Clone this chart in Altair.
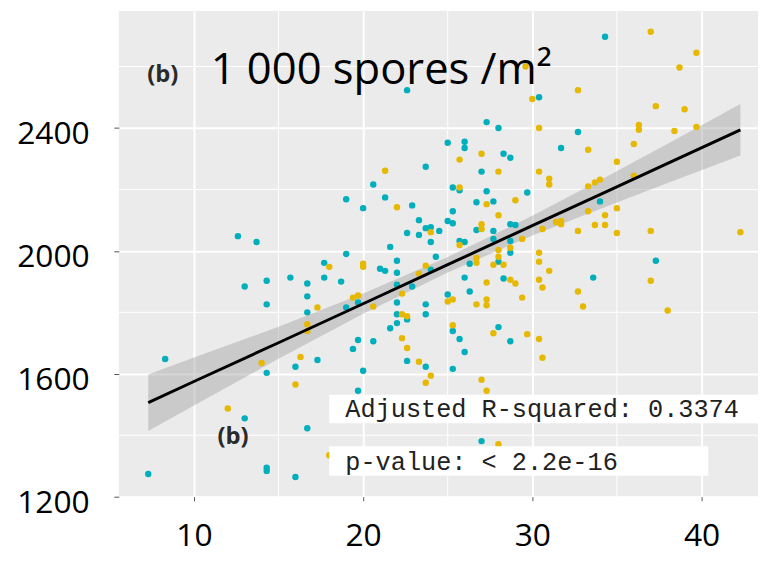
import altair as alt
import pandas as pd

# ---- data ----
teal_x = [12.6,13.7,22.6,23.7,20.6,19.0,21.3,20.0,22.9,23.3,
          23.7,24.0,22.6,23.3,24.0,21.6,19.0,24.5,30.4,27.3,
          28.0,32.7,25.0,26.0,26.0,31.7,28.3,28.7,27.0,25.3,
          25.7,27.3,29.7,26.7,27.7,25.3,25.0,25.3,26.7,27.7,
          28.7,29.0,25.7,26.0,27.7,28.7,28.7,34.3,34.0,13.0,
          14.3,14.3,8.3,14.3,13.0,7.3,14.3,14.3,15.7,16.7,
          17.7,17.7,18.7,21.0,21.3,22.0,22.0,24.3,24.0,22.0,
          22.9,16.7,19.7,19.0,22.0,23.7,23.7,22.0,22.6,22.0,
          21.6,16.7,19.7,19.4,20.6,17.3,16.0,22.6,23.7,20.0,
          19.7,16.7,16.0,26.3,28.0,26.0,28.3,33.6,25.0,26.3,
          25.3,25.7,26.0,25.3,28.0,28.7,27.0,37.3]
teal_y = [2048,2029,2523,2274,2216,2168,2174,2139,2148,2100,
          2074,2077,2058,2052,2029,2013,1990,2065,2500,2419,
          2400,2387,2352,2355,2335,2335,2316,2303,2258,2206,
          2197,2194,2190,2158,2161,2129,2097,2090,2068,2065,
          2087,2084,2032,2029,2039,2032,1994,2697,2161,1884,
          1903,1826,1648,1603,1455,1274,1294,1284,1913,1894,
          1961,1913,1900,1942,1935,1968,1929,1981,1939,1890,
          1884,1852,1832,1816,1832,1826,1794,1794,1777,1765,
          1748,1800,1710,1681,1706,1645,1623,1642,1623,1610,
          1545,1423,1264,1958,1965,1913,1910,1913,1858,1868,
          1739,1713,1671,1616,1752,1706,1381,1968]

yellow_x = [21.3,22.0,24.0,29.6,30.0,32.7,30.4,33.3,27.0,25.7,
            28.0,30.4,31.0,31.0,25.7,27.3,29.0,28.0,27.0,27.0,
            31.4,31.7,31.7,30.6,32.7,33.7,33.3,33.3,33.7,34.0,
            25.7,29.4,28.7,28.0,30.4,37.0,39.7,38.7,37.3,39.0,
            36.3,36.3,38.4,39.7,36.0,35.0,36.0,35.0,34.3,34.3,
            35.0,37.0,42.3,14.0,12.0,18.0,20.0,20.0,23.7,23.3,
            22.3,19.4,19.7,17.3,20.6,22.3,22.6,16.7,16.7,22.3,
            22.6,16.3,23.3,24.0,23.7,16.0,18.0,26.7,26.7,28.0,
            27.7,28.3,30.4,31.0,27.3,28.7,29.0,30.4,30.6,32.7,
            33.0,25.0,25.3,26.7,27.3,27.3,29.4,25.3,27.7,29.7,
            30.4,30.6,27.0,27.3,28.0,37.0,38.0]
yellow_y = [2261,2142,2061,2600,2494,2523,2400,2329,2316,2297,
            2258,2258,2235,2216,2206,2152,2165,2116,2087,2071,
            2094,2097,2087,2071,2065,2084,2129,2210,2223,2232,
            2019,2039,2010,2003,1994,2713,2645,2597,2471,2461,
            2410,2394,2390,2403,2348,2290,2245,2139,2116,2084,
            2058,2065,2061,1635,1487,1948,1958,1948,1952,1926,
            1861,1848,1855,1816,1819,1794,1787,1761,1739,1716,
            1684,1655,1639,1594,1571,1565,1335,1977,1961,1981,
            1955,1955,1965,1935,1897,1906,1894,1906,1881,1868,
            1819,1835,1842,1826,1842,1823,1848,1758,1732,1729,
            1713,1652,1581,1545,1371,1903,1806]

# fitted line and confidence band
fit_x   = [7.3, 10, 15, 20, 25, 30, 34, 38, 42.3]
fit_y   = [1506, 1575, 1701, 1828, 1955, 2082, 2183, 2285, 2394]
band_lo = [1414, 1497, 1649, 1795, 1930, 2050, 2136, 2221, 2310]
band_hi = [1598, 1653, 1753, 1861, 1980, 2114, 2230, 2349, 2478]

x_ticks = [10, 20, 30, 40]
y_ticks = [1200, 1600, 2000, 2400]
minor_x = [15, 25, 35]
minor_y = [1400, 1800, 2200, 2600]

title_text = "1 000 spores /m²"
panel_tag = "(b)"
stat_lines = ["Adjusted R-squared: 0.3374", "p-value: < 2.2e-16"]

# annotation anchors (data coordinates)
box_x1 = [18.0, 18.0]
box_x2 = [43.4, 40.4]
box_y1 = [1439, 1268]
box_y2 = [1532, 1364]
stat_tx = [18.95, 18.95]
stat_ty = [1461, 1287]

TEAL = "#00AFBB"
YELLOW = "#E7B800"

# ---- tables ----
pts = pd.concat([
    pd.DataFrame({"x": teal_x, "y": teal_y, "g": "teal"}),
    pd.DataFrame({"x": yellow_x, "y": yellow_y, "g": "yellow"}),
], ignore_index=True)
fit = pd.DataFrame({"x": fit_x, "y": fit_y, "lo": band_lo, "hi": band_hi})
mx = pd.DataFrame({"x": minor_x})
my = pd.DataFrame({"y": minor_y})
boxes = pd.DataFrame({"x": box_x1, "x2": box_x2, "y": box_y1, "y2": box_y2})
stats = pd.DataFrame({"x": stat_tx, "y": stat_ty, "t": stat_lines})
title_df = pd.DataFrame({"x": [10.99], "y": [2542], "t": [title_text]})
tag_df = pd.DataFrame({"x": [8.16, 12.31], "y": [2571, 1393], "t": [panel_tag, panel_tag]})

xscale = alt.Scale(domain=[5.56, 43.34], nice=False, zero=False)
yscale = alt.Scale(domain=[1200, 2781], nice=False, zero=False)
xaxis = alt.Axis(values=x_ticks, title=None, grid=True, gridColor="white", gridWidth=2,
                 domain=False, tickColor="#555555", tickSize=4, labelPadding=20, format="d",
                 labelFont="Open Sans", labelFontSize=32, labelColor="black")
yaxis = alt.Axis(values=y_ticks, title=None, grid=True, gridColor="white", gridWidth=2,
                 domain=False, tickColor="#555555", tickSize=5, labelPadding=25, format="d",
                 labelOffset=6, labelFont="Open Sans", labelFontSize=32, labelColor="black")

def X(f):
    return alt.X(f, type="quantitative", scale=xscale, axis=xaxis)

def Y(f):
    return alt.Y(f, type="quantitative", scale=yscale, axis=yaxis)

minor_v = alt.Chart(mx).mark_rule(color="white", strokeWidth=1).encode(x=X("x"))
minor_h = alt.Chart(my).mark_rule(color="white", strokeWidth=1).encode(y=Y("y"))

band = alt.Chart(fit).mark_area(color="#999999", opacity=0.4).encode(
    x=X("x"), y=Y("lo"), y2="hi")

points = alt.Chart(pts).mark_circle(size=42, opacity=1).encode(
    x=X("x"), y=Y("y"),
    color=alt.Color("g:N", scale=alt.Scale(domain=["teal", "yellow"], range=[TEAL, YELLOW]), legend=None))

line = alt.Chart(fit).mark_line(color="black", strokeWidth=3).encode(x=X("x"), y=Y("y"))

rects = alt.Chart(boxes).mark_rect(color="white").encode(x=X("x"), x2="x2", y=Y("y"), y2="y2")

stat_text = alt.Chart(stats).mark_text(font="Liberation Mono", fontSize=25.5, align="left",
                                       baseline="alphabetic", color="#222222").encode(
    x=X("x"), y=Y("y"), text="t")

title = alt.Chart(title_df).mark_text(font="Open Sans", fontSize=44, align="left",
                                      baseline="alphabetic", color="black").encode(
    x=X("x"), y=Y("y"), text="t")

tags = alt.Chart(tag_df).mark_text(font="Open Sans", fontSize=24, fontWeight="bold",
                                   align="center", baseline="middle", color="#2a2a2a").encode(
    x=X("x"), y=Y("y"), text="t")

chart = alt.layer(minor_v, minor_h, band, points, line, rects, stat_text, title, tags).properties(
    width=646, height=491,
    autosize=alt.AutoSizeParams(type="none"),
    padding={"left": 112, "top": 0, "right": 0, "bottom": 56},
    background="white",
).configure_view(fill="#EBEBEB", strokeWidth=0)

chart.save("out.html", embed_options={"renderer": "svg", "actions": False})
